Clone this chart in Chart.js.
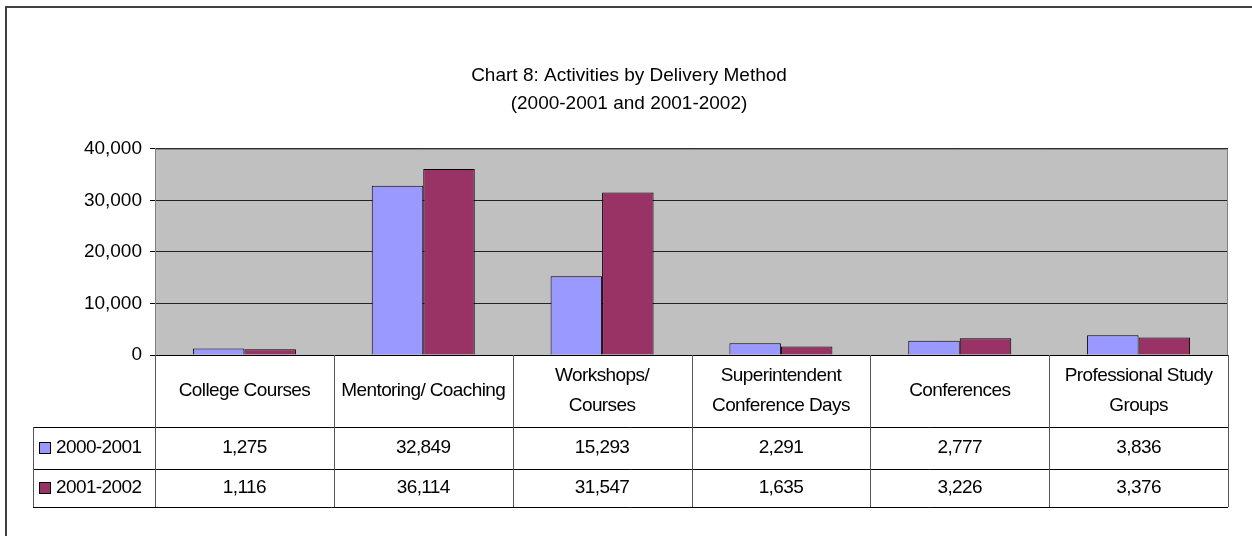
<!DOCTYPE html>
<html>
<head>
<meta charset="utf-8">
<script src="https://cdn.jsdelivr.net/npm/chart.js@4/dist/chart.umd.min.js"></script>
<style>
  html, body { margin: 0; padding: 0; background: #ffffff; }
  #wrap { width: 1252px; height: 536px; position: relative; }
</style>
</head>
<body>
<div id="wrap"><canvas id="c" width="1252" height="536"></canvas></div>
<script>
// ---- data ----
const categories = [
  ["College Courses"],
  ["Mentoring/ Coaching"],
  ["Workshops/", "Courses"],
  ["Superintendent", "Conference Days"],
  ["Conferences"],
  ["Professional Study", "Groups"]
];
const seriesNames = ["2000-2001", "2001-2002"];
const values2000 = [1275, 32849, 15293, 2291, 2777, 3836];
const values2001 = [1116, 36114, 31547, 1635, 3226, 3376];
const yTicks = [0, 10000, 20000, 30000, 40000];
const titleLines = ["Chart 8: Activities by Delivery Method", "(2000-2001 and 2001-2002)"];

const colors = ["#9999FF", "#993366"];
const FONT = "'Liberation Sans', Arial, sans-serif";
const fmt = v => v.toLocaleString('en-US');

const framePlugin = {
  id: 'frame',
  beforeDraw(chart) {
    const ctx = chart.ctx, a = chart.chartArea;
    ctx.save();
    ctx.fillStyle = '#ffffff';
    ctx.fillRect(0, 0, chart.width, chart.height);
    // outer frame
    ctx.strokeStyle = '#404040';
    ctx.lineWidth = 2;
    ctx.beginPath();
    ctx.moveTo(6, chart.height + 5);
    ctx.lineTo(6, 7);
    ctx.lineTo(chart.width + 5, 7);
    ctx.stroke();
    // plot background
    ctx.fillStyle = '#C0C0C0';
    ctx.fillRect(a.left, a.top, a.right - a.left, a.bottom - a.top);
    ctx.restore();
  },
  afterDatasetsDraw(chart) {
    const ctx = chart.ctx, a = chart.chartArea;
    ctx.save();
    ctx.strokeStyle = '#808080';
    ctx.lineWidth = 1;
    ctx.beginPath();
    ctx.moveTo(a.left + 0.5, a.bottom);
    ctx.lineTo(a.left + 0.5, a.top + 0.5);
    ctx.lineTo(a.right - 0.5, a.top + 0.5);
    ctx.lineTo(a.right - 0.5, a.bottom);
    ctx.stroke();
    ctx.strokeStyle = '#000000';
    ctx.beginPath();
    ctx.moveTo(a.left - 5, a.bottom + 0.5);
    ctx.lineTo(a.right, a.bottom + 0.5);
    ctx.stroke();
    ctx.restore();
  },
  afterDraw(chart) {
    const ctx = chart.ctx, a = chart.chartArea, xs = chart.scales.x;
    const n = categories.length;
    const half = (xs.getPixelForValue(1) - xs.getPixelForValue(0)) / 2;
    const top = a.bottom, r1 = top + 72, r2 = r1 + 42, r3 = r2 + 38;
    const legL = 33;
    ctx.save();
    ctx.lineWidth = 1;
    // horizontals
    ctx.strokeStyle = '#000000';
    ctx.beginPath();
    ctx.moveTo(legL, r1 + 0.5); ctx.lineTo(a.right, r1 + 0.5);
    ctx.moveTo(legL, r2 + 0.5); ctx.lineTo(a.right, r2 + 0.5);
    ctx.moveTo(legL, r3 + 0.5); ctx.lineTo(a.right, r3 + 0.5);
    ctx.stroke();
    // verticals
    ctx.strokeStyle = '#555555';
    ctx.beginPath();
    ctx.moveTo(legL + 0.5, r1); ctx.lineTo(legL + 0.5, r3);
    for (let i = 0; i <= n; i++) {
      const x = Math.round(i < n ? xs.getPixelForValue(i) - half : xs.getPixelForValue(n - 1) + half) + 0.5;
      ctx.moveTo(x, top); ctx.lineTo(x, r3);
    }
    ctx.stroke();
    // texts
    ctx.fillStyle = '#000000';
    ctx.font = "19px " + FONT;
    try { ctx.letterSpacing = '-0.6px'; } catch (e) {}
    ctx.textAlign = 'center';
    ctx.textBaseline = 'middle';
    for (let i = 0; i < n; i++) {
      const cx = xs.getPixelForValue(i);
      const lines = categories[i];
      const mid = (top + r1) / 2;
      const lh = 30;
      lines.forEach((t, k) => {
        ctx.fillText(t, cx, mid + (k - (lines.length - 1) / 2) * lh);
      });
      ctx.fillText(fmt(values2000[i]), cx, (r1 + r2) / 2);
      ctx.fillText(fmt(values2001[i]), cx, (r2 + r3) / 2);
    }
    // legend keys
    const rows = [[r1, r2], [r2, r3]];
    ctx.textAlign = 'left';
    rows.forEach((rr, k) => {
      const cy = (rr[0] + rr[1]) / 2;
      ctx.fillStyle = colors[k];
      ctx.fillRect(39.5, cy - 5.5, 11, 11);
      ctx.strokeStyle = '#000000';
      ctx.strokeRect(39.5, cy - 5.5, 11, 11);
      ctx.fillStyle = '#000000';
      ctx.fillText(seriesNames[k], 56, cy);
    });
    ctx.restore();
  }
};

new Chart(document.getElementById('c'), {
  type: 'bar',
  data: {
    labels: categories,
    datasets: [
      { label: seriesNames[0], data: values2000, backgroundColor: colors[0], borderColor: '#000000', borderWidth: 1 },
      { label: seriesNames[1], data: values2001, backgroundColor: colors[1], borderColor: '#000000', borderWidth: 1 }
    ]
  },
  options: {
    responsive: false,
    animation: false,
    devicePixelRatio: 1,
    layout: { padding: { left: 30, right: 24, top: 54, bottom: 181 } },
    categoryPercentage: 0.576,
    barPercentage: 1.0,
    plugins: {
      legend: { display: false },
      tooltip: { enabled: false },
      title: {
        display: true,
        text: titleLines,
        color: '#000000',
        font: { family: FONT, size: 19, weight: 'normal', lineHeight: 1.47 },
        padding: { top: 8, bottom: 31 }
      }
    },
    scales: {
      x: {
        display: true,
        grid: { display: false },
        border: { display: false },
        ticks: { display: false },
        afterFit(scale) { scale.height = 0; }
      },
      y: {
        min: 0, max: 40000,
        afterBuildTicks(scale) { scale.ticks = yTicks.map(v => ({ value: v })); },
        afterFit(scale) { scale.width = 125; },
        grid: { color: '#222222', lineWidth: 1, tickLength: 5, tickColor: '#000000' },
        border: { display: true, color: '#808080' },
        ticks: {
          color: '#000000',
          padding: 8,
          font: { family: FONT, size: 19 },
          callback: v => fmt(v)
        }
      }
    }
  },
  plugins: [framePlugin]
});
</script>
</body>
</html>
